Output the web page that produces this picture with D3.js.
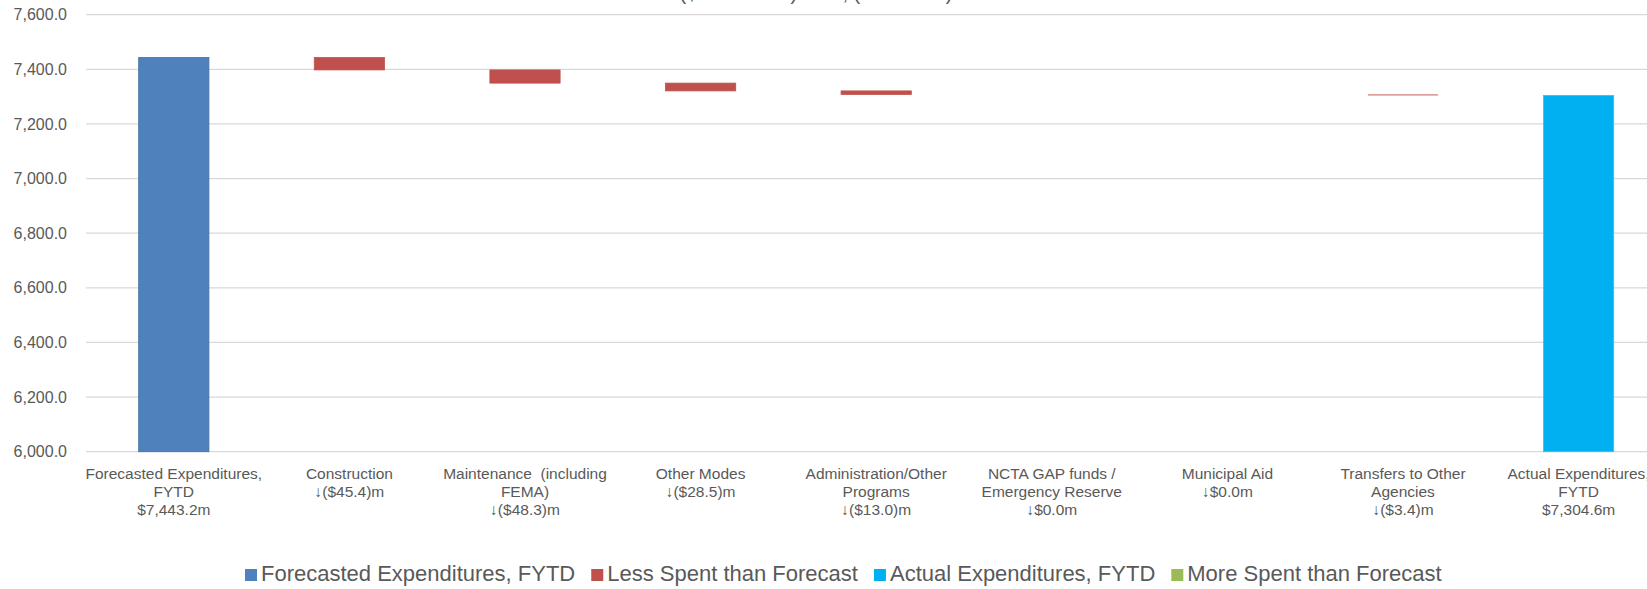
<!DOCTYPE html>
<html>
<head>
<meta charset="utf-8">
<script src="https://cdn.jsdelivr.net/npm/d3@7"></script>
<style>
  body { margin: 0; background: #fff; overflow: hidden; }
  svg { display: block; font-family: "Liberation Sans", Arial, sans-serif; }
</style>
</head>
<body>
<div id="content"></div>
<script>
let width = 1647;
let height = 589;
let margin = ({top: 14.7, right: -19.4, bottom: 137.3, left: 86});

// category names (already wrapped the way the chart shows them)
let categories = [
    ["Forecasted Expenditures,", "FYTD"],
    ["Construction"],
    ["Maintenance  (including", "FEMA)"],
    ["Other Modes"],
    ["Administration/Other", "Programs"],
    ["NCTA GAP funds /", "Emergency Reserve"],
    ["Municipal Aid"],
    ["Transfers to Other", "Agencies"],
    ["Actual Expenditures,", "FYTD"]
];
let valueLabels = ["$7,443.2m", "\u2193($45.4)m", "\u2193($48.3)m", "\u2193($28.5)m", "\u2193($13.0)m",
    "\u2193$0.0m", "\u2193$0.0m", "\u2193($3.4)m", "$7,304.6m"];
let values = [7443.2, -45.4, -48.3, -28.5, -13.0, 0.0, 0.0, -3.4, 7304.6];
let barType = ["Forecasted Expenditures, FYTD", "Less Spent than Forecast", "Less Spent than Forecast",
    "Less Spent than Forecast", "Less Spent than Forecast", "Less Spent than Forecast",
    "Less Spent than Forecast", "Less Spent than Forecast", "Actual Expenditures, FYTD"];
let legendNames = ["Forecasted Expenditures, FYTD", "Less Spent than Forecast",
    "Actual Expenditures, FYTD", "More Spent than Forecast"];
let yTicks = [6000, 6200, 6400, 6600, 6800, 7000, 7200, 7400, 7600];
let titleText = "($ in Millions) YTD, (Dec 2023)";

let colors = d3.scaleOrdinal()
    .domain(legendNames)
    .range(["#4F81BD", "#C0504D", "#00B0F0", "#9BBB59"]);

let strokes = d3.scaleOrdinal()
    .domain(legendNames)
    .range(["#41719C", "#C0504D", "#3CC0F0", "#9BBB59"]);

let svg = d3.select("#content")
    .append("svg")
    .attr("width", width)
    .attr("height", height);

let ids = categories.map(function(d, i) { return "c" + i; });

let xScale = d3.scaleBand()
    .domain(ids)
    .range([margin.left, width - margin.right])
    .paddingInner(0.6)
    .paddingOuter(0.3);

let yScale = d3.scaleLinear()
    .domain([6000, 7600])
    .range([height - margin.bottom, margin.top]);

// waterfall: running total for the floating bars
let running = 0;
let bars = values.map(function(v, i) {
    let d = {id: ids[i], type: barType[i]};
    if (i === 0 || i === values.length - 1) {
        d.y0 = 6000; d.y1 = v; running = v;
    } else {
        d.y0 = running; d.y1 = running + v; running = running + v;
    }
    return d;
});

// gridlines
svg.append("g")
    .selectAll("line")
    .data(yTicks)
    .enter()
    .append("line")
    .attr("x1", margin.left)
    .attr("x2", width)
    .attr("y1", function(d) { return yScale(d); })
    .attr("y2", function(d) { return yScale(d); })
    .attr("stroke", "#D9D9D9")
    .attr("stroke-width", 1.3);

// y axis labels
let yAxis = d3.axisLeft(yScale)
    .tickValues(yTicks)
    .tickFormat(d3.format(",.1f"))
    .tickSize(0)
    .tickPadding(19);

svg.append("g")
    .attr("transform", "translate(" + margin.left + ",0)")
    .call(yAxis)
    .call(function(g) { g.select(".domain").remove(); })
    .selectAll("text")
    .attr("fill", "#595959")
    .style("font-size", "16px")
    .style("font-family", "'Liberation Sans', Arial, sans-serif");

// bars
svg.append("g")
    .selectAll("rect")
    .data(bars)
    .enter()
    .append("rect")
    .attr("x", function(d) { return xScale(d.id); })
    .attr("width", xScale.bandwidth())
    .attr("y", function(d) { return yScale(Math.max(d.y0, d.y1)); })
    .attr("height", function(d) { return Math.abs(yScale(d.y0) - yScale(d.y1)); })
    .attr("fill", function(d) { return colors(d.type); })
    .attr("stroke", function(d) { return d.y0 === d.y1 ? "none" : strokes(d.type); })
    .attr("stroke-width", function(d) { return Math.abs(d.y1 - d.y0) < 10 ? 0 : 0.8; });

// category labels
let catLabels = svg.append("g")
    .selectAll("text")
    .data(categories)
    .enter()
    .append("text")
    .attr("text-anchor", "middle")
    .attr("fill", "#595959")
    .style("font-size", "15.5px");

catLabels.each(function(lines, i) {
    let t = d3.select(this);
    let cx = xScale(ids[i]) + xScale.bandwidth() / 2;
    lines.concat([valueLabels[i]]).forEach(function(line, j) {
        t.append("tspan")
            .attr("x", cx)
            .attr("y", 479 + j * 18)
            .attr("xml:space", "preserve")
            .text(line);
    });
});

// title (mostly above the visible area)
svg.append("text")
    .attr("x", 816)
    .attr("y", 0)
    .attr("text-anchor", "middle")
    .attr("fill", "#595959")
    .style("font-size", "20px")
    .text(titleText);

// legend
let legend = svg.append("g");
let lx = 245;
legendNames.forEach(function(name) {
    legend.append("rect")
        .attr("x", lx)
        .attr("y", 569)
        .attr("width", 12)
        .attr("height", 12)
        .attr("fill", colors(name));
    let t = legend.append("text")
        .attr("x", lx + 16)
        .attr("y", 581)
        .attr("fill", "#595959")
        .style("font-size", "22px")
        .text(name);
    lx = lx + 16 + t.node().getComputedTextLength() + 16;
});
</script>
</body>
</html>
